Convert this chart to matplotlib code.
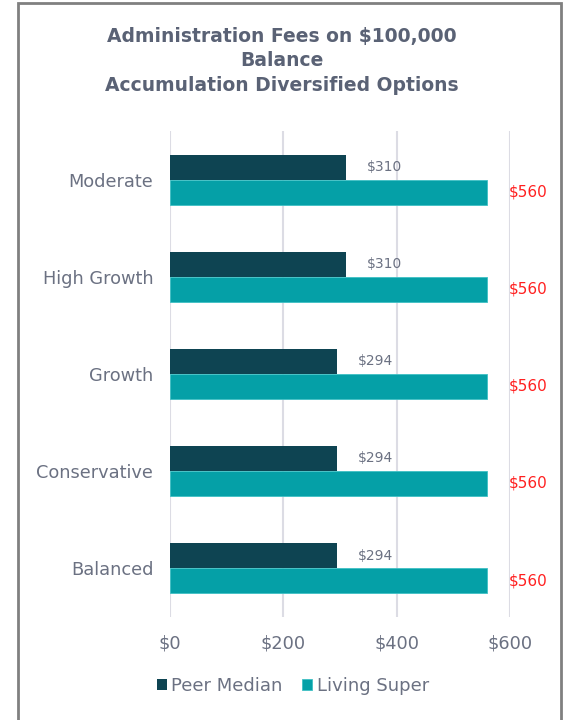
import matplotlib
matplotlib.use("Agg")
import matplotlib.pyplot as plt
from matplotlib.patches import Rectangle
import numpy as np

categories = ["Moderate", "High Growth", "Growth", "Conservative", "Balanced"]
peer_median = [310, 310, 294, 294, 294]
living_super = [560, 560, 560, 560, 560]
xticks = [0, 200, 400, 600]
xtick_labels = ["$0", "$200", "$400", "$600"]

plt.rcParams['font.family'] = ['DejaVu Sans']
txt = "#6b7182"
dark = "#0e4452"
teal = "#05a0a7"

fig = plt.figure(figsize=5.63 * np.array([1, 720 / 563]), dpi=100)
fig.patches.append(Rectangle((18 / 563, -0.1), (561 - 18) / 563, 1.1 - 3 / 720,
                             transform=fig.transFigure, fill=False,
                             edgecolor="#808080", linewidth=2))
ax = fig.add_axes([170 / 563, 1 - 616.5 / 720, 340 / 563, (616.5 - 131.5) / 720])

y = np.arange(len(categories))
h = 25 / 97
ax.barh(y - h / 2, peer_median, height=h, color=dark, label="Peer Median", zorder=3)
ax.barh(y + h / 2, living_super, height=h, color=teal, label="Living Super", zorder=3,
        edgecolor="#3fc0c4", linewidth=0.6)

off = 21 * 600 / 340
for i, (p, l) in enumerate(zip(peer_median, living_super)):
    ax.text(p + off, i - h / 2, f"${p}", va="center", ha="left", color=txt, fontsize=10)
    ax.text(l + off, i + h / 2, f"${l}", va="center", ha="left", color="#ff2020", fontsize=11)

ax.set_xlim(0, 600)
ax.set_ylim(len(categories) - 0.5, -0.5)
ax.set_yticks(y)
ax.set_yticklabels(categories, fontsize=12.8, color=txt)
ax.set_xticks(xticks)
ax.set_xticklabels(xtick_labels, fontsize=12.8, color=txt)
ax.tick_params(axis="both", length=0)
ax.tick_params(axis="y", pad=12)
ax.tick_params(axis="x", pad=13)
ax.grid(axis="x", color="#dcdce4", linewidth=1.5, zorder=0)
for s in ax.spines.values():
    s.set_visible(False)

fig.text(0.5, 1 - 61 / 720, "Administration Fees on $100,000\nBalance\nAccumulation Diversified Options",
         ha="center", va="center", fontsize=13.5, fontweight="bold", color="#5a6275",
         linespacing=1.38)

leg = fig.legend(loc="center", bbox_to_anchor=(293 / 563, 1 - 686 / 720), ncol=2, frameon=False,
                 fontsize=13, handlelength=0.55, handleheight=0.55, handletextpad=0.25,
                 columnspacing=1.1)
for t in leg.get_texts():
    t.set_color(txt)

fig.savefig("out.png", dpi=100)
